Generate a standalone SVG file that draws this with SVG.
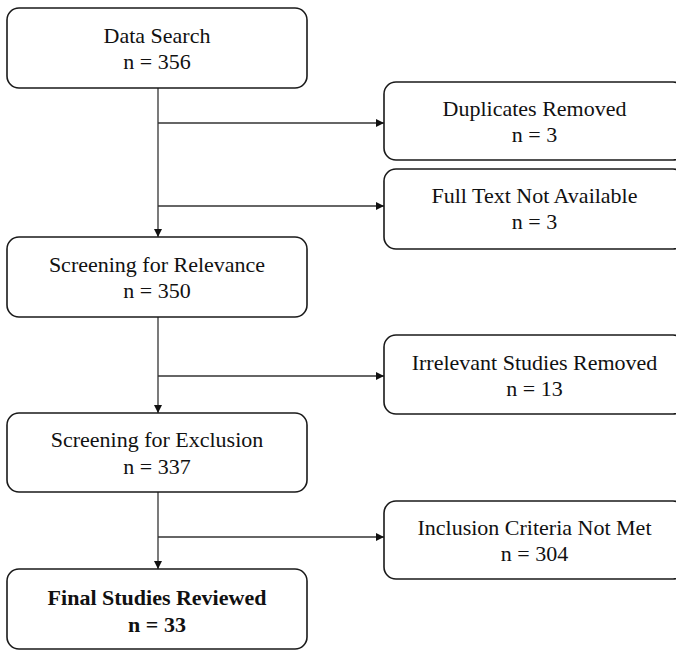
<svg xmlns="http://www.w3.org/2000/svg" width="676" height="650" viewBox="0 0 676 650">
  <style>
    .box { fill: #ffffff; stroke: #1a1a1a; stroke-width: 1.6; }
    .t { font-family: "Liberation Serif", "Times New Roman", serif; font-size: 22px; fill: #111; text-anchor: middle; }
    .b { font-weight: bold; }
    .c { fill: none; stroke: #333; stroke-width: 1.3; }
  </style>
  <defs>
    <marker id="arr" viewBox="0 0 10 10" refX="10" refY="5" markerWidth="8" markerHeight="8" markerUnits="userSpaceOnUse" orient="auto">
      <path d="M0,0 L10,5 L0,10 z" fill="#111"/>
    </marker>
  </defs>
  <rect width="676" height="650" fill="#ffffff"/>

  <g id="connectors">
    <line class="c" x1="158" y1="88" x2="158" y2="237" marker-end="url(#arr)"/>
    <line class="c" x1="158" y1="123" x2="384" y2="123" marker-end="url(#arr)"/>
    <line class="c" x1="158" y1="206" x2="384" y2="206" marker-end="url(#arr)"/>
    <line class="c" x1="158" y1="317" x2="158" y2="413" marker-end="url(#arr)"/>
    <line class="c" x1="158" y1="376" x2="384" y2="376" marker-end="url(#arr)"/>
    <line class="c" x1="158" y1="492" x2="158" y2="569" marker-end="url(#arr)"/>
    <line class="c" x1="158" y1="537" x2="384" y2="537" marker-end="url(#arr)"/>
  </g>

  <g id="data-search">
    <rect class="box" x="7" y="8" width="300" height="80" rx="12"/>
    <text class="t" x="157" y="43">Data Search</text>
    <text class="t" x="157" y="69">n = 356</text>
  </g>
  <g id="duplicates-removed">
    <rect class="box" x="384" y="82" width="301" height="78" rx="12"/>
    <text class="t" x="534.5" y="116">Duplicates Removed</text>
    <text class="t" x="534.5" y="142">n = 3</text>
  </g>
  <g id="full-text-not-available">
    <rect class="box" x="384" y="169" width="301" height="80" rx="12"/>
    <text class="t" x="534.5" y="203">Full Text Not Available</text>
    <text class="t" x="534.5" y="229">n = 3</text>
  </g>
  <g id="screening-relevance">
    <rect class="box" x="7" y="237" width="300" height="80" rx="12"/>
    <text class="t" x="157" y="272">Screening for Relevance</text>
    <text class="t" x="157" y="298">n = 350</text>
  </g>
  <g id="irrelevant-removed">
    <rect class="box" x="384" y="335" width="301" height="79" rx="12"/>
    <text class="t" x="534.5" y="370">Irrelevant Studies Removed</text>
    <text class="t" x="534.5" y="396">n = 13</text>
  </g>
  <g id="screening-exclusion">
    <rect class="box" x="7" y="413" width="300" height="79" rx="12"/>
    <text class="t" x="157" y="447">Screening for Exclusion</text>
    <text class="t" x="157" y="474">n = 337</text>
  </g>
  <g id="inclusion-not-met">
    <rect class="box" x="384" y="501" width="301" height="78" rx="12"/>
    <text class="t" x="534.5" y="535">Inclusion Criteria Not Met</text>
    <text class="t" x="534.5" y="561">n = 304</text>
  </g>
  <g id="final-studies">
    <rect class="box" x="7" y="569" width="300" height="80" rx="12"/>
    <text class="t b" x="157" y="605">Final Studies Reviewed</text>
    <text class="t b" x="157" y="632">n = 33</text>
  </g>
</svg>
